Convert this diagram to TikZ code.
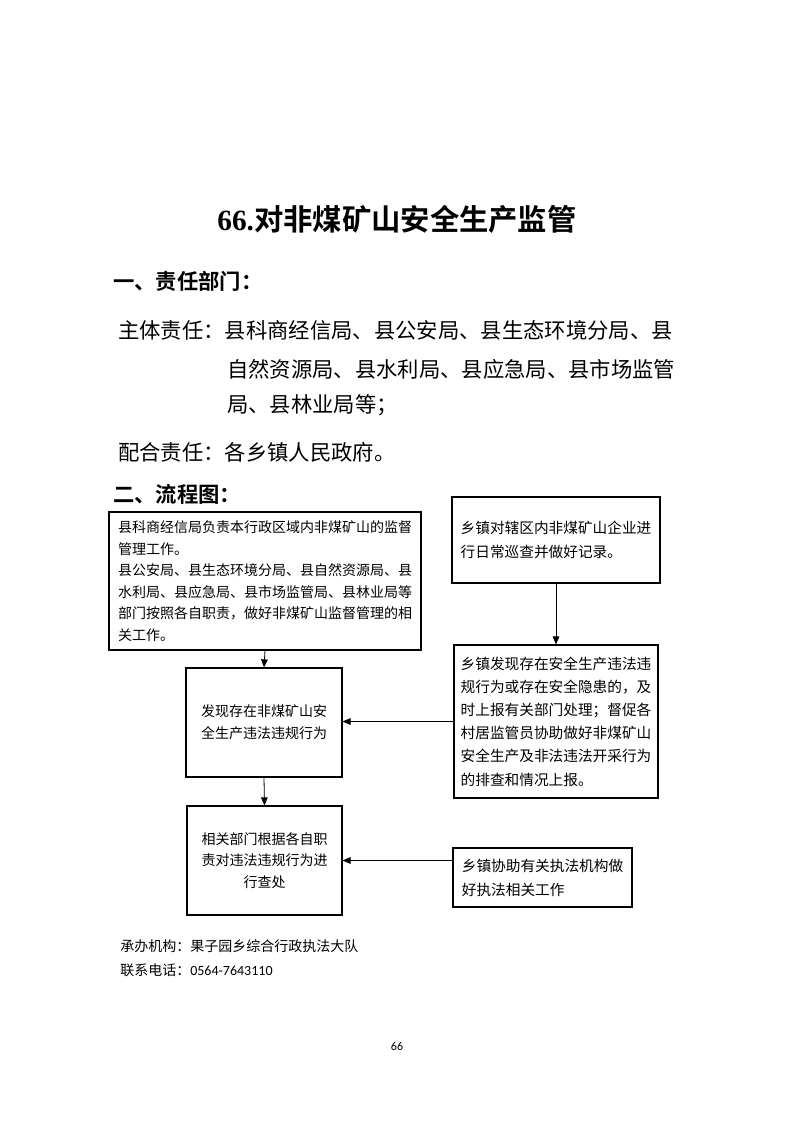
\documentclass[tikz,border=0pt]{standalone}
\usepackage{fontspec}
\setmainfont{Noto Sans CJK SC}[BoldFont={* Bold}]
\newfontfamily\latserif{Liberation Serif}
\newfontfamily\calib{Carlito}
\usetikzlibrary{arrows.meta}
\tikzset{
  box/.style={draw, line width=0.9pt, inner sep=0pt, align=left},
  ctrbox/.style={box, align=center},
  arr/.style={-{Triangle[length=6pt,width=5pt]}, line width=0.6pt},
  body/.style={anchor=west, inner sep=0pt, font=\fontsize{16}{20}\selectfont},
  head/.style={anchor=west, inner sep=0pt, font=\fontsize{16}{20}\selectfont\bfseries},
  foot/.style={anchor=west, inner sep=0pt, font=\fontsize{10.5}{13}\selectfont}
}
\begin{document}
\begin{tikzpicture}[x=0.75pt,y=-0.75pt]
\fill[white] (0,0) rectangle (793,1122);
\useasboundingbox (0,0) rectangle (793,1122);

\node[inner sep=0pt, font=\fontsize{22}{26}\selectfont\bfseries] (title) at (397,219)
  {{\latserif 66.}对非煤矿山安全生产监管};

\node[head] (h1) at (113,281) {一、责任部门：};
\node[body] (l1) at (118,330) {主体责任：县科商经信局、县公安局、县生态环境分局、县};
\node[body] (l2) at (227,369) {自然资源局、县水利局、县应急局、县市场监管};
\node[body] (l3) at (227,405) {局、县林业局等；};
\node[body] (l4) at (118,452) {配合责任：各乡镇人民政府。};
\node[head] (h2) at (113,494) {二、流程图：};

\node[box, font=\fontsize{10.5}{16.1}\selectfont, minimum width=234pt, minimum height=103.5pt] (A) at (265,581)
  {县科商经信局负责本行政区域内非煤矿山的监督\\管理工作。\\县公安局、县生态环境分局、县自然资源局、县\\水利局、县应急局、县市场监管局、县林业局等\\部门按照各自职责，做好非煤矿山监督管理的相\\关工作。};

\node[box, font=\fontsize{11}{18}\selectfont, minimum width=156pt, minimum height=64.5pt] (B) at (556,540)
  {乡镇对辖区内非煤矿山企业进\\行日常巡查并做好记录。};

\node[box, font=\fontsize{11}{17.4}\selectfont, minimum width=153pt, minimum height=114.75pt] (C) at (556,721.5)
  {乡镇发现存在安全生产违法违\\规行为或存在安全隐患的，及\\时上报有关部门处理；督促各\\村居监管员协助做好非煤矿山\\安全生产及非法违法开采行为\\的排查和情况上报。};

\node[ctrbox, font=\fontsize{10.5}{16.5}\selectfont, minimum width=117pt, minimum height=81.75pt] (D) at (264,722.5)
  {发现存在非煤矿山安\\全生产违法违规行为};

\node[ctrbox, font=\fontsize{10.5}{16.1}\selectfont, minimum width=116.25pt, minimum height=81.75pt] (E) at (264.5,860.5)
  {相关部门根据各自职\\责对违法违规行为进\\行查处};

\node[box, font=\fontsize{11}{18}\selectfont, minimum width=134.25pt, minimum height=44.25pt] (F) at (542.5,877.5)
  {乡镇协助有关执法机构做\\好执法相关工作};

\draw[arr] (A.south) -- (D.north);
\draw[arr] (B.south) -- (C.north);
\draw[arr] (C.west) -- (C.west -| D.east);
\draw[arr] (D.south) -- (E.north);
\draw[arr] (F.west |- E.east) -- (E.east);

\node[foot] (f1) at (120,946) {承办机构：果子园乡综合行政执法大队};
\node[foot] (f2) at (120,970) {联系电话：{\calib 0564-7643110}};
\node[inner sep=0pt, font=\calib\fontsize{9}{11}\selectfont] (pg) at (397,1046) {66};
\end{tikzpicture}
\end{document}
